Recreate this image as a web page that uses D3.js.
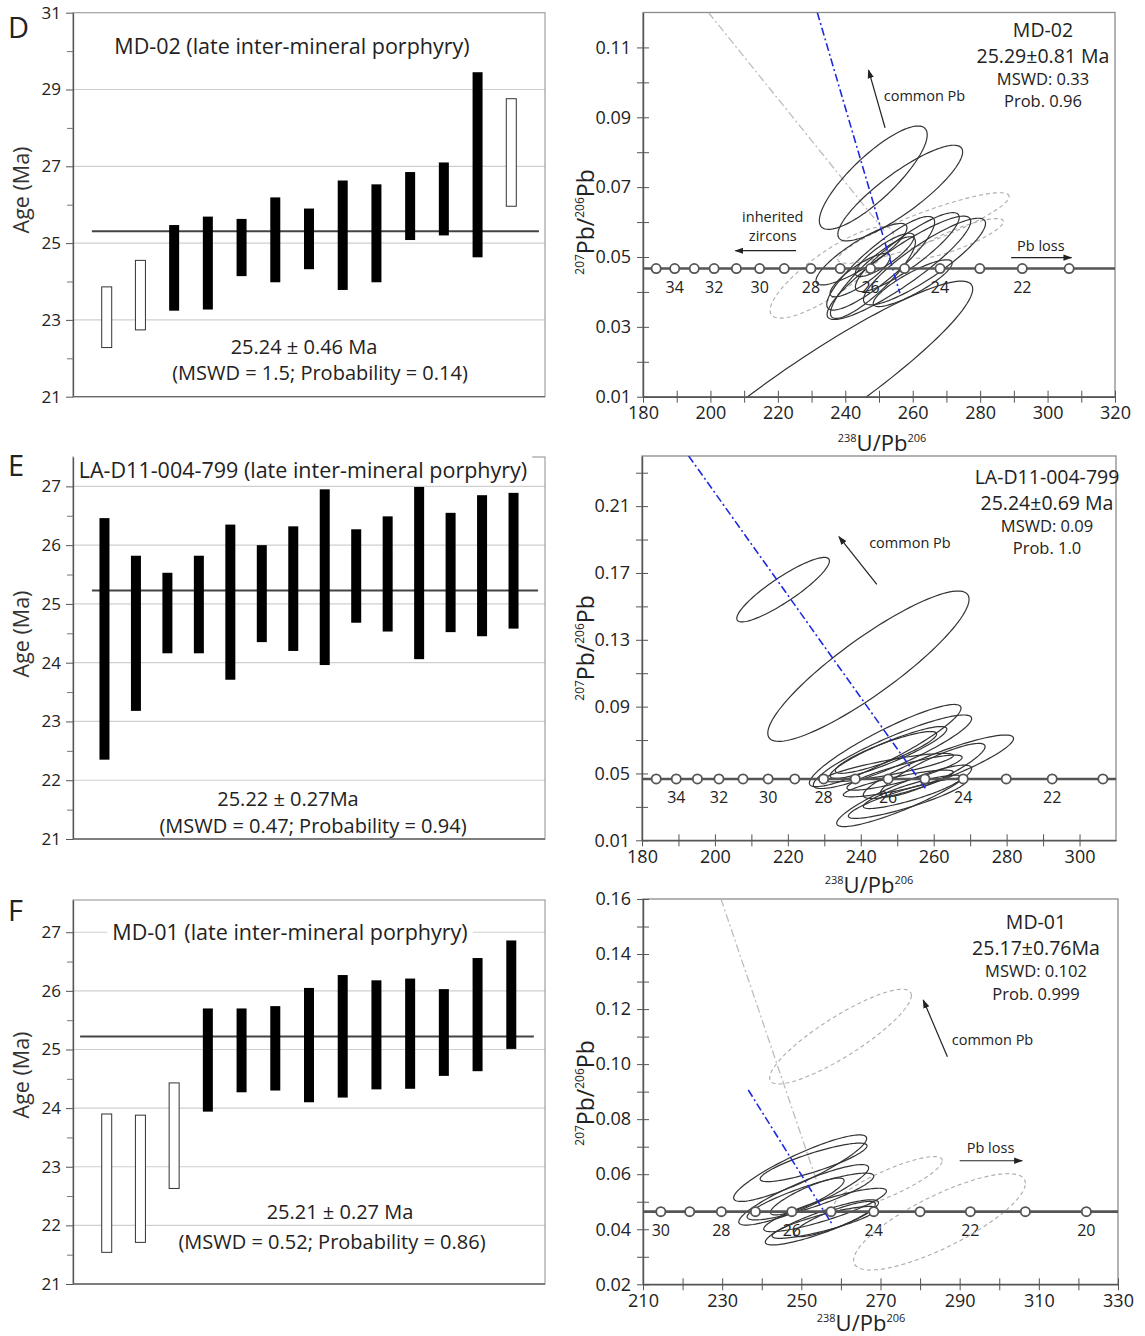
<!DOCTYPE html>
<html>
<head>
<meta charset="utf-8">
<script src="https://cdn.jsdelivr.net/npm/d3@7"></script>
<style>
  body { margin: 0; background: #fff; }
  svg { font-family: 'Open Sans', sans-serif; }
</style>
</head>
<body>
<svg id="fig" width="1145" height="1336"></svg>
<script>
// ---- weighted mean age plots (2 sigma bars, Ma) ----
const dLow  = [22.28, 22.74, 23.24, 23.27, 24.14, 23.98, 24.32, 23.78, 23.98, 25.08, 25.20, 24.63, 25.96]
const dHigh = [23.86, 24.55, 25.47, 25.69, 25.63, 26.19, 25.90, 26.63, 26.53, 26.85, 27.10, 29.45, 28.76]
const dOpen = [1, 1, 0, 0, 0, 0, 0, 0, 0, 0, 0, 0, 1]
const dMean = 25.31

const eLow  = [22.35, 23.18, 24.16, 24.16, 23.71, 24.35, 24.20, 23.96, 24.68, 24.53, 24.06, 24.52, 24.45, 24.58]
const eHigh = [26.46, 25.82, 25.53, 25.82, 26.35, 26.00, 26.32, 26.95, 26.27, 26.49, 26.99, 26.55, 26.85, 26.89]
const eOpen = [0, 0, 0, 0, 0, 0, 0, 0, 0, 0, 0, 0, 0, 0]
const eMean = 25.23

const fLow  = [21.54, 21.71, 22.63, 23.94, 24.27, 24.30, 24.10, 24.18, 24.32, 24.33, 24.55, 24.63, 25.01]
const fHigh = [23.90, 23.88, 24.43, 25.70, 25.70, 25.74, 26.05, 26.27, 26.18, 26.21, 26.03, 26.56, 26.86]
const fOpen = [1, 1, 1, 0, 0, 0, 0, 0, 0, 0, 0, 0, 0]
const fMean = 25.22

const dAgeTicks = [21, 23, 25, 27, 29, 31]
const dAgeMinor = [22, 24, 26, 28, 30]
const dAgeGrid  = [23, 25, 27, 29]
const efAgeTicks = [21, 22, 23, 24, 25, 26, 27]
const efAgeMinor = [21.5, 22.5, 23.5, 24.5, 25.5, 26.5]
const efAgeGrid  = [22, 23, 24, 25, 26, 27]

// ---- Tera-Wasserburg plots ----
// ellipses: [238U/206Pb, 207Pb/206Pb, half width x, half height y, correlation]
const dEll = [
  [248.3, 0.0727, 16.0, 0.0148, 0.83],
  [256.3, 0.0683, 18.5, 0.0137, 0.86],
  [229.8, 0.0108, 48.0, 0.0323, 0.93],
  [244.8, 0.0508, 13.5, 0.0088, 0.86],
  [250.5, 0.0482, 16.0, 0.0134, 0.88],
  [258.4, 0.0514, 15.4, 0.0113, 0.88],
  [255.9, 0.0469, 21.3, 0.0148, 0.90],
  [263.5, 0.0487, 18.1, 0.0124, 0.88],
  [248.2, 0.0441, 12.6, 0.0117, 0.87],
  [251.7, 0.0506, 8.7, 0.0062, 0.84],
  [260.0, 0.0425, 11.7, 0.0067, 0.86],
  [244.4, 0.0448, 8.9, 0.0062, 0.84]
]
const dEllGrey = [
  [236.0, 0.0456, 18.3, 0.0131, 0.83],
  [263.2, 0.0583, 25.4, 0.0101, 0.89],
  [273.6, 0.0553, 13.3, 0.0057, 0.85]
]
const eEll = [
  [218.7, 0.1600, 12.7, 0.0193, 0.89],
  [242.1, 0.1142, 27.6, 0.0450, 0.89],
  [246.7, 0.0667, 20.8, 0.0246, 0.91],
  [248.7, 0.0630, 21.7, 0.0220, 0.90],
  [247.6, 0.0626, 16.0, 0.0155, 0.90],
  [246.9, 0.0626, 13.9, 0.0125, 0.88],
  [247.6, 0.0535, 17.8, 0.0085, 0.85],
  [252.0, 0.0505, 15.8, 0.0105, 0.87],
  [261.3, 0.0540, 20.6, 0.0190, 0.89],
  [259.7, 0.0520, 14.4, 0.0160, 0.88],
  [251.9, 0.0366, 18.5, 0.0184, 0.89],
  [252.8, 0.0351, 16.2, 0.0120, 0.88],
  [254.2, 0.0390, 13.5, 0.0100, 0.87],
  [250.3, 0.0440, 15.1, 0.0080, 0.85]
]
const eEllGrey = []
const fEll = [
  [249.7, 0.0622, 16.8, 0.0121, 0.89],
  [253.1, 0.0643, 13.5, 0.0070, 0.86],
  [250.6, 0.0525, 16.4, 0.0110, 0.89],
  [252.3, 0.0519, 16.0, 0.0085, 0.87],
  [256.0, 0.0470, 15.5, 0.0079, 0.87],
  [251.5, 0.0519, 9.3, 0.0067, 0.86],
  [255.2, 0.0425, 14.3, 0.0082, 0.87],
  [255.9, 0.0425, 13.3, 0.0058, 0.85],
  [258.4, 0.0437, 10.3, 0.0064, 0.85]
]
const fEllGrey = [
  [259.9, 0.1100, 17.9, 0.0172, 0.87],
  [271.9, 0.0567, 13.7, 0.0097, 0.85],
  [284.9, 0.0427, 21.7, 0.0175, 0.80]
]

// concordia age marks
const concAgesDE = [35, 34, 33, 32, 31, 30, 29, 28, 27, 26, 25, 24, 23, 22, 21]
const concXDE    = [183.9, 189.4, 195.2, 201.1, 207.7, 214.6, 221.9, 229.8, 238.5, 247.5, 257.6, 268.1, 279.9, 292.5, 306.4]
const concAgesF  = [30, 29, 28, 27, 26, 25, 24, 23, 22, 21, 20]
const concXF     = [214.5, 221.8, 229.8, 238.4, 247.6, 257.5, 268.3, 280.0, 292.7, 306.6, 322.0]

// regression lines [x, y] pairs
const dBlue = [[231.7, 0.12], [256.2, 0.0396]]
const dGrey = [[199.4, 0.12], [252.0, 0.057]]
const eBlue = [[192.8, 0.24], [257.7, 0.0412]]
const fBlue = [[236.6, 0.0906], [257.8, 0.0418]]
const fGrey = [[229.7, 0.16], [254.0, 0.057]]

const svg = d3.select('#fig')
const defs = svg.append('defs')
defs.append('marker').attr('id', 'arr')
  .attr('viewBox', '0 0 10 10').attr('refX', 9).attr('refY', 5)
  .attr('markerWidth', 9).attr('markerHeight', 9)
  .attr('markerUnits', 'userSpaceOnUse').attr('orient', 'auto')
  .append('path').attr('d', 'M0,1.5 L10,5 L0,8.5 Z').attr('fill', '#222')

const LX0 = 73, LX1 = 545

function agePanel(p) {
  const g = svg.append('g')
  const y = d3.scaleLinear().domain(p.dom).range([p.y1, p.y0])
  const x = d3.scaleLinear().domain([0, p.low.length + 1]).range([LX0, LX1])

  g.selectAll('.grid').data(p.grid).enter().append('line')
    .attr('x1', LX0).attr('x2', LX1)
    .attr('y1', d => y(d)).attr('y2', d => y(d))
    .attr('stroke', '#cfcfcf').attr('stroke-width', 1.2)

  g.append('rect')
    .attr('x', LX0).attr('y', p.y0).attr('width', LX1 - LX0).attr('height', p.y1 - p.y0)
    .attr('fill', 'none').attr('stroke', '#a0a0a0').attr('stroke-width', 1.2)

  // title (white backing where it crosses a grid line)
  const tg = g.append('g')
  const title = tg.append('text').text(p.title)
    .attr('x', p.titleX).attr('y', p.titleY)
    .attr('text-anchor', 'middle').attr('font-size', 21.5).attr('fill', '#222')
  const bb = title.node().getBBox()
  tg.insert('rect', 'text')
    .attr('x', bb.x - 5).attr('y', bb.y).attr('width', bb.width + 10).attr('height', bb.height)
    .attr('fill', '#fff')

  g.append('line')
    .attr('x1', x(p.meanSpan[0])).attr('x2', x(p.meanSpan[1]))
    .attr('y1', y(p.mean)).attr('y2', y(p.mean))
    .attr('stroke', '#444').attr('stroke-width', 2)

  g.selectAll('.bar').data(d3.range(p.low.length)).enter().append('rect')
    .attr('x', i => x(i + 1) - 5).attr('width', 10)
    .attr('y', i => y(p.high[i])).attr('height', i => y(p.low[i]) - y(p.high[i]))
    .attr('fill', i => p.open[i] ? '#fff' : '#000')
    .attr('stroke', i => p.open[i] ? '#333' : 'none')
    .attr('stroke-width', 1)

  const ax = g.append('g').attr('transform', `translate(${LX0},0)`)
    .call(d3.axisLeft(y).tickValues(p.ticks).tickSize(7).tickSizeOuter(0).tickPadding(5).tickFormat(d3.format('d')))
  ax.select('.domain').attr('stroke', '#555').attr('stroke-width', 1.3)
  ax.selectAll('.tick line').attr('stroke', '#555')
  ax.selectAll('text').attr('font-size', 17).attr('fill', '#222').attr('font-family', 'Open Sans')
  const mn = g.append('g').attr('transform', `translate(${LX0},0)`)
    .call(d3.axisLeft(y).tickValues(p.minor).tickSize(6).tickSizeOuter(0).tickFormat(''))
  mn.select('.domain').remove()
  mn.selectAll('.tick line').attr('stroke', '#777')

  g.append('line').attr('x1', LX0).attr('x2', LX1).attr('y1', p.y1).attr('y2', p.y1)
    .attr('stroke', '#666').attr('stroke-width', 1.3)

  p.stats.forEach((s, i) => {
    g.append('text').text(s).attr('x', p.statsX[i]).attr('y', p.statsY[i])
      .attr('text-anchor', 'middle').attr('font-size', 20).attr('fill', '#222')
  })

  g.append('text').text('Age (Ma)')
    .attr('transform', `translate(29,${p.labelY}) rotate(-90)`)
    .attr('text-anchor', 'middle').attr('font-size', 21.5).attr('fill', '#333')

  g.append('text').text(p.letter).attr('x', 8).attr('y', p.letterY)
    .attr('font-size', 29).attr('fill', '#222')
}

function twPanel(p) {
  const x = d3.scaleLinear().domain(p.xDom).range([p.x0, p.x1])
  const y = d3.scaleLinear().domain(p.yDom).range([p.y1, p.y0])
  const g = svg.append('g')
  const clipId = 'clip' + p.id
  defs.append('clipPath').attr('id', clipId).append('rect')
    .attr('x', p.x0).attr('y', p.y0).attr('width', p.x1 - p.x0).attr('height', p.y1 - p.y0)

  g.append('rect')
    .attr('x', p.x0).attr('y', p.y0).attr('width', p.x1 - p.x0).attr('height', p.y1 - p.y0)
    .attr('fill', 'none').attr('stroke', '#8a8a8a').attr('stroke-width', 1.3)

  const plot = g.append('g').attr('clip-path', `url(#${clipId})`)
  const cy = y(p.concY)

  // age labels under the concordia
  p.concAges.forEach((a, i) => {
    if (a % 2) return
    plot.append('text').text(a).attr('x', x(p.concX[i])).attr('y', cy + 24)
      .attr('text-anchor', 'middle').attr('font-size', 16).attr('fill', '#222')
  })

  const line = d3.line().x(d => x(d[0])).y(d => y(d[1]))
  if (p.grey) {
    plot.append('path').attr('d', line(p.grey)).attr('fill', 'none')
      .attr('stroke', '#bdbdbd').attr('stroke-width', 1.3).attr('stroke-dasharray', '8 3 2 3')
  }

  const ellPath = e => {
    const [ex, ey, sx, sy, r] = e
    const k = Math.sqrt(1 - r * r)
    const pts = d3.range(0, 360, 3).map(a => {
      const t = a * Math.PI / 180
      return [ex + sx * Math.cos(t), ey + sy * (r * Math.cos(t) + k * Math.sin(t))]
    })
    return line(pts) + 'Z'
  }

  plot.selectAll('.eg').data(p.ellGrey).enter().append('path')
    .attr('d', ellPath).attr('fill', 'none')
    .attr('stroke', '#acacac').attr('stroke-width', 1.1).attr('stroke-dasharray', '4 3')

  plot.selectAll('.el').data(p.ell).enter().append('path')
    .attr('d', ellPath).attr('fill', 'none')
    .attr('stroke', '#333').attr('stroke-width', 1.2)

  plot.append('path').attr('d', line(p.blue)).attr('fill', 'none')
    .attr('stroke', '#1f2be0').attr('stroke-width', 1.6).attr('stroke-dasharray', '8 3 2 3')

  // concordia
  plot.append('line').attr('x1', p.x0).attr('x2', p.x1).attr('y1', cy).attr('y2', cy)
    .attr('stroke', '#555').attr('stroke-width', 2.6)
  plot.selectAll('.cc').data(p.concX).enter().append('circle')
    .attr('cx', d => x(d)).attr('cy', cy).attr('r', 4.6)
    .attr('fill', '#fff').attr('stroke', '#555').attr('stroke-width', 1.8)

  p.arrows.forEach(a => {
    g.append('line').attr('x1', x(a[0][0])).attr('y1', y(a[0][1]))
      .attr('x2', x(a[1][0])).attr('y2', y(a[1][1]))
      .attr('stroke', '#222').attr('stroke-width', 1.2).attr('marker-end', 'url(#arr)')
  })
  p.notes.forEach(n => {
    g.append('text').text(n.t).attr('x', x(n.x)).attr('y', y(n.y)).attr('dy', '0.35em')
      .attr('text-anchor', n.anchor).attr('font-size', 14.5).attr('fill', '#222')
  })

  p.info.forEach((s, i) => {
    g.append('text').text(s).attr('x', p.infoX).attr('y', p.infoY[i])
      .attr('text-anchor', 'middle').attr('font-size', i < 2 ? 19.5 : 16.5).attr('fill', '#222')
  })

  // axes
  const ay = g.append('g').attr('transform', `translate(${p.x0},0)`)
    .call(d3.axisLeft(y).tickValues(p.yTicks).tickSize(6).tickSizeOuter(0).tickPadding(6).tickFormat(d3.format('.2f')))
  const ayMinor = g.append('g').attr('transform', `translate(${p.x0},0)`)
    .call(d3.axisLeft(y).tickValues(p.yMinor).tickSize(6).tickSizeOuter(0).tickFormat(''))
  ayMinor.select('.domain').remove()
  ay.selectAll('.tick line').attr('x1', 6)
  ayMinor.selectAll('.tick line').attr('x1', 6)

  const axb = g.append('g').attr('transform', `translate(0,${p.y1})`)
    .call(d3.axisBottom(x).tickValues(p.xTicks).tickSize(6).tickSizeOuter(0).tickPadding(4).tickFormat(d3.format('d')))
  const axbMinor = g.append('g').attr('transform', `translate(0,${p.y1})`)
    .call(d3.axisBottom(x).tickValues(p.xMinor).tickSize(6).tickSizeOuter(0).tickFormat(''))
  axbMinor.select('.domain').remove()
  axb.selectAll('.tick line').attr('y1', -6)
  axbMinor.selectAll('.tick line').attr('y1', -6)

  ;[ay, ayMinor, axb, axbMinor].forEach(a => {
    a.select('.domain').attr('stroke', '#555').attr('stroke-width', 1.4)
    a.selectAll('.tick line').attr('stroke', '#555')
    a.selectAll('text').attr('font-size', 18).attr('fill', '#222').attr('font-family', 'Open Sans')
  })

  // axis titles
  const yl = g.append('text').attr('transform', `translate(594,${p.yLabelY}) rotate(-90)`)
    .attr('text-anchor', 'middle').attr('fill', '#222')
  yl.append('tspan').text('207').attr('font-size', 12).attr('dy', -10)
  yl.append('tspan').text('Pb/').attr('font-size', 23).attr('dy', 10)
  yl.append('tspan').text('206').attr('font-size', 12).attr('dy', -10)
  yl.append('tspan').text('Pb').attr('font-size', 23).attr('dy', 10)

  const xl = g.append('text').attr('x', p.xLabelX).attr('y', p.xLabelY)
    .attr('text-anchor', 'middle').attr('fill', '#222')
  xl.append('tspan').text('238').attr('font-size', 11).attr('dy', -9)
  xl.append('tspan').text('U/Pb').attr('font-size', 22).attr('dy', 9)
  xl.append('tspan').text('206').attr('font-size', 11).attr('dy', -9)
}

agePanel({
  letter: 'D', letterY: 38, y0: 12.7, y1: 396.7, dom: [21, 31],
  low: dLow, high: dHigh, open: dOpen, mean: dMean, meanSpan: [0.56, 13.82],
  ticks: dAgeTicks, minor: dAgeMinor, grid: dAgeGrid,
  title: 'MD-02 (late inter-mineral porphyry)', titleX: 292, titleY: 54,
  stats: ['25.24 ± 0.46 Ma', '(MSWD = 1.5; Probability = 0.14)'], statsX: [304, 320], statsY: [354, 380],
  labelY: 190
})
agePanel({
  letter: 'E', letterY: 476, y0: 457, y1: 839, dom: [21, 27.5],
  low: eLow, high: eHigh, open: eOpen, mean: eMean, meanSpan: [0.6, 14.78],
  ticks: efAgeTicks, minor: efAgeMinor, grid: efAgeGrid,
  title: 'LA-D11-004-799 (late inter-mineral porphyry)', titleX: 303, titleY: 478,
  stats: ['25.22 ± 0.27Ma', '(MSWD = 0.47; Probability = 0.94)'], statsX: [288, 313], statsY: [806, 833],
  labelY: 634
})
agePanel({
  letter: 'F', letterY: 921, y0: 900, y1: 1284, dom: [21, 27.55],
  low: fLow, high: fHigh, open: fOpen, mean: fMean, meanSpan: [0.21, 13.67],
  ticks: efAgeTicks, minor: efAgeMinor, grid: efAgeGrid,
  title: 'MD-01 (late inter-mineral porphyry)', titleX: 290, titleY: 940,
  stats: ['25.21 ± 0.27 Ma', '(MSWD = 0.52; Probability = 0.86)'], statsX: [340, 332], statsY: [1219, 1249],
  labelY: 1075
})

twPanel({
  id: 'D', x0: 643, x1: 1115, y0: 12.5, y1: 396.7, xDom: [180, 320], yDom: [0.01, 0.12],
  xTicks: [180, 200, 220, 240, 260, 280, 300, 320], xMinor: [190, 210, 230, 250, 270, 290, 310],
  yTicks: [0.01, 0.03, 0.05, 0.07, 0.09, 0.11], yMinor: [0.02, 0.04, 0.06, 0.08, 0.10],
  concY: 0.0467, concX: concXDE, concAges: concAgesDE,
  ell: dEll, ellGrey: dEllGrey, blue: dBlue, grey: dGrey,
  arrows: [[[251.8, 0.087], [246.9, 0.1035]], [[225.4, 0.0518], [207.4, 0.0518]], [[289.2, 0.0498], [307.1, 0.0498]]],
  notes: [
    { t: 'common Pb', x: 251.4, y: 0.0962, anchor: 'start' },
    { t: 'inherited', x: 218.5, y: 0.0615, anchor: 'middle' },
    { t: 'zircons', x: 218.5, y: 0.0560, anchor: 'middle' },
    { t: 'Pb loss', x: 298, y: 0.0531, anchor: 'middle' }
  ],
  info: ['MD-02', '25.29±0.81 Ma', 'MSWD: 0.33', 'Prob. 0.96'], infoX: 1043, infoY: [37, 63, 85, 107],
  yLabelY: 222, xLabelX: 882, xLabelY: 451
})
twPanel({
  id: 'E', x0: 642, x1: 1116, y0: 456, y1: 840.3, xDom: [180, 310], yDom: [0.01, 0.24],
  xTicks: [180, 200, 220, 240, 260, 280, 300], xMinor: [190, 210, 230, 250, 270, 290],
  yTicks: [0.01, 0.05, 0.09, 0.13, 0.17, 0.21], yMinor: [0.03, 0.07, 0.11, 0.15, 0.19, 0.23],
  concY: 0.0467, concX: concXDE, concAges: concAgesDE,
  ell: eEll, ellGrey: eEllGrey, blue: eBlue, grey: null,
  arrows: [[[244.4, 0.1632], [234, 0.1917]]],
  notes: [{ t: 'common Pb', x: 242.3, y: 0.1877, anchor: 'start' }],
  info: ['LA-D11-004-799', '25.24±0.69 Ma', 'MSWD: 0.09', 'Prob. 1.0'], infoX: 1047, infoY: [484, 510, 532, 554],
  yLabelY: 648, xLabelX: 869, xLabelY: 893
})
twPanel({
  id: 'F', x0: 643, x1: 1118, y0: 899, y1: 1284.3, xDom: [210, 330], yDom: [0.02, 0.16],
  xTicks: [210, 230, 250, 270, 290, 310, 330], xMinor: [220, 240, 260, 280, 300, 320],
  yTicks: [0.02, 0.04, 0.06, 0.08, 0.10, 0.12, 0.14, 0.16], yMinor: [0.03, 0.05, 0.07, 0.09, 0.11, 0.13, 0.15],
  concY: 0.0464, concX: concXF, concAges: concAgesF,
  ell: fEll, ellGrey: fEllGrey, blue: fBlue, grey: fGrey,
  arrows: [[[286.9, 0.1027], [280.8, 0.1233]], [[290, 0.0649], [305.8, 0.0649]]],
  notes: [
    { t: 'common Pb', x: 288, y: 0.1088, anchor: 'start' },
    { t: 'Pb loss', x: 297.8, y: 0.0694, anchor: 'middle' }
  ],
  info: ['MD-01', '25.17±0.76Ma', 'MSWD: 0.102', 'Prob. 0.999'], infoX: 1036, infoY: [929, 955, 977, 1000],
  yLabelY: 1093, xLabelX: 861, xLabelY: 1331
})
</script>
</body>
</html>
